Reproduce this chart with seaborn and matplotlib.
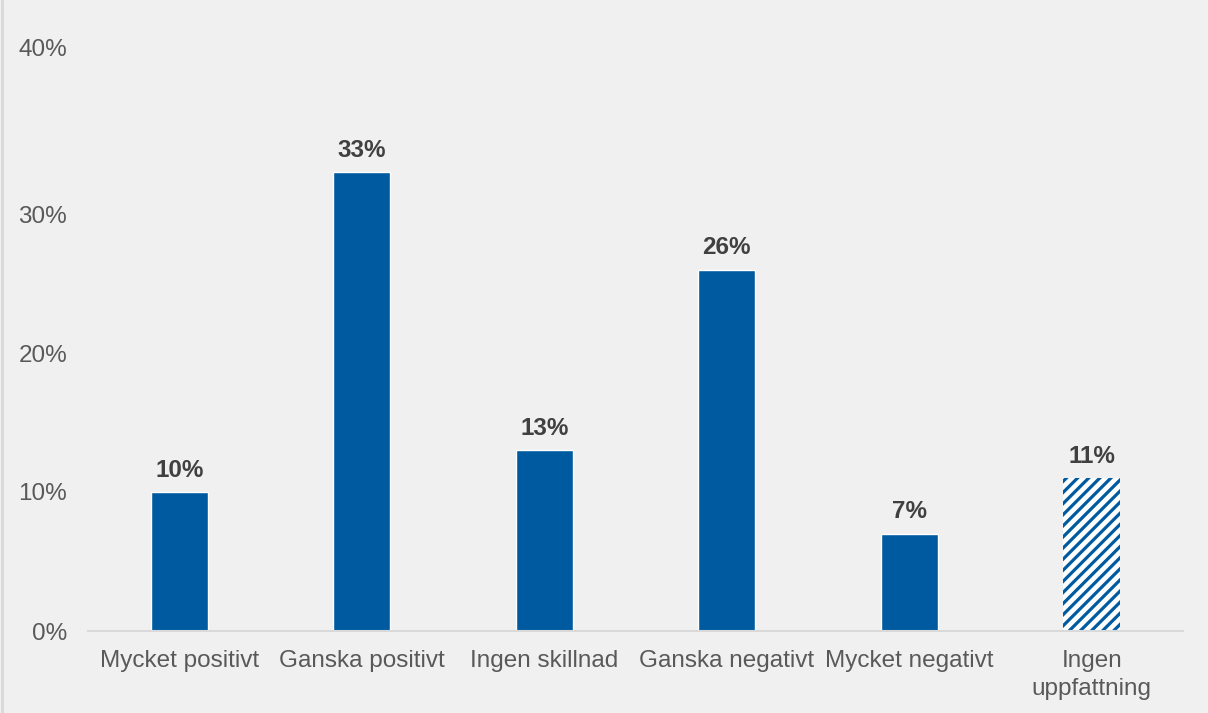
import matplotlib
import matplotlib.pyplot as plt
import matplotlib.transforms as mtransforms
import pandas as pd
import seaborn as sns
from matplotlib.lines import Line2D

matplotlib.use("Agg")

categories = [
    "Mycket positivt",
    "Ganska positivt",
    "Ingen skillnad",
    "Ganska negativt",
    "Mycket negativt",
    "Ingen\nuppfattning",
]
values = [10, 33, 13, 26, 7, 11]
y_ticks = [0, 10, 20, 30, 40]
y_tick_labels = ["0%", "10%", "20%", "30%", "40%"]

bar_color = "#005AA0"
bg_color = "#F0F0F0"
label_color = "#595959"
value_color = "#404040"

sns.set_theme(style="white")
plt.rcParams["font.family"] = ["Liberation Sans", "DejaVu Sans"]
plt.rcParams["hatch.linewidth"] = 2.3
plt.rcParams["hatch.color"] = bar_color

df = pd.DataFrame({"kategori": categories, "andel": values})

fig = plt.figure(figsize=(12.08, 7.13), dpi=100, facecolor=bg_color)
ax = fig.add_axes([88 / 1208, 82 / 713, (1183 - 88) / 1208, (631 - 75) / 713])
ax.set_facecolor(bg_color)

sns.barplot(data=df, x="kategori", y="andel", color=bar_color, width=0.31,
            saturation=1, ax=ax)

# last bar is hatched
last = ax.patches[-1]
last.set_facecolor("white")
last.set_edgecolor(bar_color)
last.set_hatch("///")
last.set_linewidth(0)

for patch, v in zip(ax.patches, values):
    ax.annotate(f"{v}%", (patch.get_x() + patch.get_width() / 2, patch.get_height()),
                xytext=(0, 7.5), textcoords="offset points", ha="center", va="bottom",
                fontsize=17.5, fontweight="bold", color=value_color)

ax.set_xlim(-0.5, len(categories) - 0.5)
ax.set_ylim(0, 40)
ax.set_yticks(y_ticks)
ax.set_yticklabels(y_tick_labels)
ax.set_xlabel("")
ax.set_ylabel("")
ax.tick_params(axis="y", length=0, pad=15, labelsize=17.5, labelcolor=label_color)
ax.tick_params(axis="x", length=0, pad=14, labelsize=17.5, labelcolor=label_color)
for lbl in ax.get_xticklabels():
    lbl.set_linespacing(1.35)

# the top label sits a little higher in the reference
top_label = ax.get_yticklabels()[-1]
top_label.set_transform(top_label.get_transform()
                        + mtransforms.ScaledTranslation(0, 27 / 100, fig.dpi_scale_trans))

for side in ["top", "right", "left"]:
    ax.spines[side].set_visible(False)
ax.spines["bottom"].set_color("#D9D9D9")
ax.spines["bottom"].set_linewidth(1.5)

fig.add_artist(Line2D([2 / 1208, 2 / 1208], [0, 1], color="#D9D9D9", linewidth=2,
                      transform=fig.transFigure))

fig.savefig("out.png", dpi=100, facecolor=bg_color)
